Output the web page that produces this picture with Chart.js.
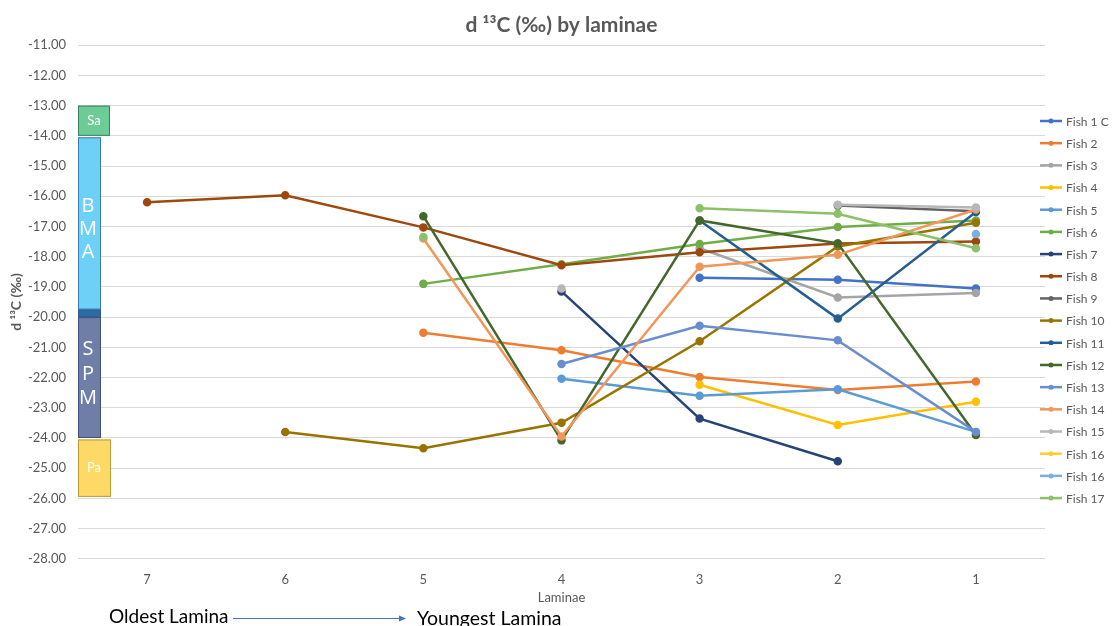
<!DOCTYPE html>
<html>
<head>
<meta charset="utf-8">
<script src="https://cdn.jsdelivr.net/npm/chart.js@4/dist/chart.umd.min.js"></script>
<style>
  html, body { margin: 0; padding: 0; background: #fff; }
  #wrap { width: 1112px; height: 626px; position: relative; }
</style>
</head>
<body>
<div id="wrap"><canvas id="myChart" width="1112" height="626"></canvas></div>
<script>
/* data */
var laminae = ['7', '6', '5', '4', '3', '2', '1'];
var fishNames = ['Fish 1 C', 'Fish 2', 'Fish 3', 'Fish 4', 'Fish 5', 'Fish 6', 'Fish 7', 'Fish 8', 'Fish 9',
  'Fish 10', 'Fish 11', 'Fish 12', 'Fish 13', 'Fish 14', 'Fish 15', 'Fish 16', 'Fish 16', 'Fish 17'];

var fish1C = [null, null, null, null, -18.70, -18.76, -19.05];
var fish2 = [null, null, -20.52, -21.10, -21.98, -22.41, -22.13];
var fish3 = [null, null, null, null, -17.72, -19.35, -19.20];
var fish4 = [null, null, null, null, -22.24, -23.57, -22.80];
var fish5 = [null, null, null, -22.04, -22.60, -22.39, -23.80];
var fish6 = [null, null, -18.90, -18.25, -17.58, -17.02, -16.80];
var fish7 = [null, null, null, -19.15, -23.36, -24.77, null];
var fish8 = [-16.20, -15.97, -17.03, -18.28, -17.85, -17.56, -17.50];
var fish9 = [null, null, null, null, null, -16.31, -16.50];
var fish10 = [null, -23.80, -24.34, -23.50, -20.80, -17.66, -16.88];
var fish11 = [null, null, null, null, -16.80, -20.05, -16.52];
var fish12 = [null, null, -16.66, -24.08, -16.80, -17.56, -23.90];
var fish13 = [null, null, null, -21.55, -20.29, -20.77, -23.80];
var fish14 = [null, null, -17.40, -23.95, -18.33, -17.94, -16.44];
var fish15 = [null, null, null, -19.05, null, -16.28, -16.37];
var fish16a = [null, null, null, null, null, null, null];
var fish16b = [null, null, null, null, null, null, -17.25];
var fish17 = [null, null, -17.35, null, -16.40, -16.58, -17.72];

var allFish = [fish1C, fish2, fish3, fish4, fish5, fish6, fish7, fish8, fish9,
  fish10, fish11, fish12, fish13, fish14, fish15, fish16a, fish16b, fish17];

var fishColors = ['#4472C4', '#ED7D31', '#A5A5A5', '#FFC000', '#5B9BD5', '#70AD47', '#264478', '#9E480E', '#636363',
  '#997300', '#255E91', '#43682B', '#698ED0', '#F1975A', '#B7B7B7', '#FFCD33', '#7CAFDD', '#8CC168'];

// source ranges shown as boxes at the left (values in per mil)
var boxLabels = ['Sa', 'BMA', '', 'SPM', 'Pa'];
var boxFrom = [-13, -14.05, -19.75, -20, -24.05];
var boxTo = [-14, -19.75, -20, -24, -25.95];

var gray = '#595959';

var datasets = [];
for (var i = 0; i < allFish.length; i++) {
  datasets.push({
    label: fishNames[i],
    data: allFish[i],
    borderColor: fishColors[i],
    backgroundColor: fishColors[i],
    pointBackgroundColor: fishColors[i],
    pointBorderColor: fishColors[i],
    borderWidth: 2.5,
    pointRadius: 3,
    spanGaps: false,
    order: -i
  });
}

/* the coloured source boxes, the legend and the arrow note at the bottom */
var extras = {
  id: 'extras',
  beforeDatasetsDraw: function (chart) {
    var ctx = chart.ctx;
    var y = chart.scales.y;
    var left = chart.chartArea.left;
    var fills = ['#6DCB95', '#6DD0F7', '#2E6AA3', '#6E7EA7', '#FFD966'];
    var widths = [32, 23, 23, 23, 33];
    var strokes = ['#3F7F5E', '#3B78B0', '#2E5C8F', '#3F4F7F', '#B89A3A'];
    ctx.save();
    for (var i = 0; i < boxLabels.length; i++) {
      var top = y.getPixelForValue(boxFrom[i]);
      var bot = y.getPixelForValue(boxTo[i]);
      ctx.fillStyle = fills[i];
      ctx.fillRect(left, top, widths[i], bot - top);
      ctx.strokeStyle = strokes[i];
      ctx.lineWidth = 1;
      ctx.strokeRect(left + 0.5, top + 0.5, widths[i] - 1, bot - top - 1);
    }
    ctx.fillStyle = '#fff';
    ctx.textAlign = 'center';
    ctx.textBaseline = 'middle';
    ctx.font = '13px Lato';
    ctx.fillText('Sa', left + 16, y.getPixelForValue(-13.5));
    ctx.fillText('Pa', left + 16, y.getPixelForValue(-25));
    ctx.font = '20px "Open Sans"';
    var bma = ['B', 'M', 'A'];
    for (var k = 0; k < 3; k++) ctx.fillText(bma[k], left + 10, y.getPixelForValue(-16.33 - k * 0.77));
    var spm = ['S', 'P', 'M'];
    for (var k = 0; k < 3; k++) ctx.fillText(spm[k], left + 10, y.getPixelForValue(-21.07 - k * 0.81));
    ctx.restore();
  },
  afterDraw: function (chart) {
    var ctx = chart.ctx;
    ctx.save();
    // legend
    var ds = chart.data.datasets;
    var lx = chart.chartArea.right - 5;
    ctx.font = '12px Lato';
    ctx.textBaseline = 'middle';
    ctx.textAlign = 'left';
    for (var i = 0; i < ds.length; i++) {
      var ly = 121 + i * 22.18;
      ctx.strokeStyle = ds[i].borderColor;
      ctx.lineWidth = 2.5;
      ctx.beginPath();
      ctx.moveTo(lx, ly);
      ctx.lineTo(lx + 22, ly);
      ctx.stroke();
      ctx.fillStyle = ds[i].borderColor;
      ctx.beginPath();
      ctx.arc(lx + 11, ly, 2.5, 0, Math.PI * 2);
      ctx.fill();
      ctx.fillStyle = gray;
      ctx.fillText(ds[i].label, lx + 26, ly + 1);
    }
    // bottom note
    ctx.fillStyle = '#000';
    ctx.font = '19px Lato';
    ctx.textBaseline = 'alphabetic';
    ctx.fillText('Oldest Lamina', 109, 623);
    ctx.font = '19.5px Lato';
    ctx.fillText('Youngest Lamina', 417, 625);
    ctx.strokeStyle = '#4472C4';
    ctx.lineWidth = 1;
    ctx.beginPath();
    ctx.moveTo(233, 618.5);
    ctx.lineTo(400, 618.5);
    ctx.stroke();
    ctx.fillStyle = '#4472C4';
    ctx.beginPath();
    ctx.moveTo(406, 618.5);
    ctx.lineTo(399, 615.5);
    ctx.lineTo(399, 621.5);
    ctx.closePath();
    ctx.fill();
    ctx.restore();
  }
};

new Chart('myChart', {
  type: 'line',
  data: { labels: laminae, datasets: datasets },
  plugins: [extras],
  options: {
    responsive: false,
    animation: false,
    layout: { padding: { left: 0, right: 67, top: 11, bottom: 20 } },
    plugins: {
      title: {
        display: true,
        fullSize: false,
        text: 'd \u00b9\u00b3C (\u2030) by laminae',
        color: gray,
        font: { family: 'Lato', size: 21, weight: 'bold' },
        padding: { top: 2, bottom: 7 }
      },
      legend: { display: false },
      tooltip: { enabled: false }
    },
    scales: {
      x: {
        offset: true,
        grid: { display: false },
        border: { display: false },
        ticks: { color: gray, font: { family: 'Lato', size: 13 }, padding: 5 },
        title: { display: true, text: 'Laminae', color: gray, font: { family: 'Lato', size: 13 }, padding: { top: -2, bottom: 0 } }
      },
      y: {
        min: -28,
        max: -11,
        afterFit: function (scale) { scale.width = 78; },
        ticks: {
          stepSize: 1,
          color: gray,
          font: { family: 'Lato', size: 13 },
          padding: 12,
          callback: function (v) { return v.toFixed(2); }
        },
        grid: { color: '#D9D9D9', drawTicks: false },
        border: { display: false },
        title: { display: true, text: 'd \u00b9\u00b3C (\u2030)', color: gray, font: { family: 'Lato', size: 14, weight: 'bold' }, padding: { top: 8, bottom: 0 } }
      }
    }
  }
});
</script>
</body>
</html>
